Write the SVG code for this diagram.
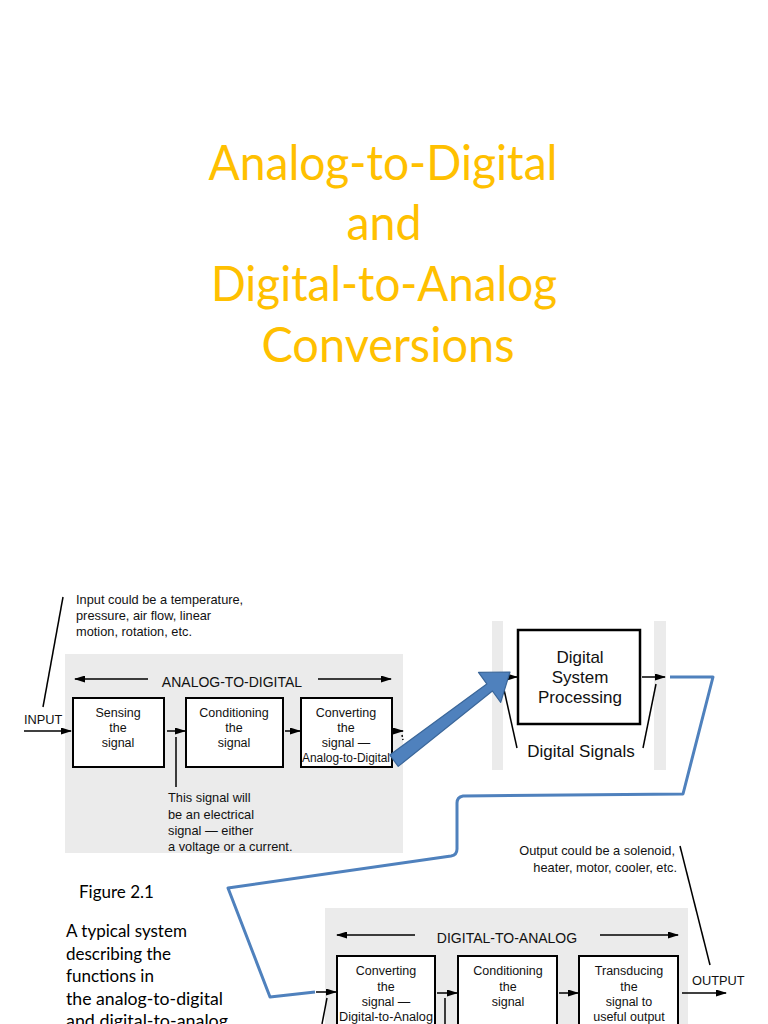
<svg xmlns="http://www.w3.org/2000/svg" width="768" height="1024" viewBox="0 0 768 1024">
<defs>
<marker id="ah" markerUnits="userSpaceOnUse" markerWidth="11" markerHeight="7" refX="10" refY="3.5" orient="auto">
<path d="M0,0 L11,3.5 L0,7 Z" fill="#000"/>
</marker>
<style>
.title{font-family:Lato,"Open Sans",sans-serif;font-size:48px;fill:#FFC000;text-anchor:middle}
.cap{font-family:Lato,"Open Sans",sans-serif;font-size:17px;fill:#000}
.sm{font-family:"Liberation Sans",Arial,sans-serif;font-size:12.8px;fill:#111}
.bx{font-family:"Liberation Sans",Arial,sans-serif;font-size:12.5px;fill:#111;text-anchor:middle}
.hd{font-family:"Liberation Sans",Arial,sans-serif;font-size:14px;fill:#111;text-anchor:middle}
.big{font-family:"Liberation Sans",Arial,sans-serif;font-size:17px;fill:#111;text-anchor:middle}
.box{fill:#fff;stroke:#000;stroke-width:2}
.panel{fill:#EBEBEB}
.ln{stroke:#000;stroke-width:1.5;fill:none}
.ar{stroke:#000;stroke-width:1.5;fill:none;marker-end:url(#ah)}
</style>
</defs>
<rect width="768" height="1024" fill="#fff"/>

<g id="title">
<text class="title" x="383" y="180" textLength="349" lengthAdjust="spacingAndGlyphs">Analog-to-Digital</text>
<text class="title" x="384" y="240" textLength="75" lengthAdjust="spacingAndGlyphs">and</text>
<text class="title" x="384" y="301" textLength="346" lengthAdjust="spacingAndGlyphs">Digital-to-Analog</text>
<text class="title" x="388" y="362" textLength="253" lengthAdjust="spacingAndGlyphs">Conversions</text>
</g>

<g id="panels">
<rect class="panel" x="65" y="654" width="338" height="199"/>
<rect class="panel" x="492" y="621" width="11" height="149"/>
<rect class="panel" x="654" y="621" width="12" height="149"/>
<rect class="panel" x="325" y="908" width="363" height="116"/>
</g>

<g id="caption">
<text class="cap" x="79" y="898">Figure 2.1</text>
<text class="cap" x="66" y="937">A typical system</text>
<text class="cap" x="66" y="960">describing the</text>
<text class="cap" x="66" y="982">functions in</text>
<text class="cap" x="66" y="1005" textLength="157" lengthAdjust="spacingAndGlyphs">the analog-to-digital</text>
<text class="cap" x="66" y="1027" textLength="162" lengthAdjust="spacingAndGlyphs">and digital-to-analog</text>
</g>

<g id="input-note">
<text class="sm" x="76" y="604">Input could be a temperature,</text>
<text class="sm" x="76" y="620">pressure, air flow, linear</text>
<text class="sm" x="76" y="636">motion, rotation, etc.</text>
<text class="sm" x="24" y="724">INPUT</text>
</g>

<g id="atd-label">
<text class="hd" x="232" y="687">ANALOG-TO-DIGITAL</text>
</g>

<g id="sense">
<rect class="box" x="73" y="698" width="91" height="69"/>
<text class="bx" x="118" y="717">Sensing</text>
<text class="bx" x="118" y="732">the</text>
<text class="bx" x="118" y="747">signal</text>
</g>
<g id="cond1">
<rect class="box" x="186" y="698" width="97" height="69"/>
<text class="bx" x="234" y="717">Conditioning</text>
<text class="bx" x="234" y="732">the</text>
<text class="bx" x="234" y="747">signal</text>
</g>
<g id="adc">
<rect class="box" x="301" y="698" width="91" height="69"/>
<text class="bx" x="346" y="717">Converting</text>
<text class="bx" x="346" y="732">the</text>
<text class="bx" x="346" y="747">signal —</text>
<text class="bx" x="346" y="762" textLength="88" lengthAdjust="spacingAndGlyphs">Analog-to-Digital</text>
</g>
<g id="signal-note">
<text class="sm" x="168" y="802">This signal will</text>
<text class="sm" x="168" y="819">be an electrical</text>
<text class="sm" x="168" y="835">signal — either</text>
<text class="sm" x="168" y="851">a voltage or a current.</text>
</g>

<g id="dsp">
<rect x="518" y="630" width="122" height="94" fill="#fff" stroke="#000" stroke-width="2.5"/>
<text class="big" x="580" y="663">Digital</text>
<text class="big" x="580" y="683">System</text>
<text class="big" x="580" y="703">Processing</text>
<text class="big" x="581" y="757">Digital Signals</text>
</g>

<g id="output-note">
<text class="sm" x="675" y="855" text-anchor="end">Output could be a solenoid,</text>
<text class="sm" x="677" y="872" text-anchor="end">heater, motor, cooler, etc.</text>
<text class="sm" x="692" y="985" font-size="14">OUTPUT</text>
</g>

<g id="dta-label">
<text class="hd" x="507" y="943">DIGITAL-TO-ANALOG</text>
</g>
<g id="dac">
<rect class="box" x="337" y="956" width="98" height="80"/>
<text class="bx" x="386" y="975">Converting</text>
<text class="bx" x="386" y="991">the</text>
<text class="bx" x="386" y="1006">signal —</text>
<text class="bx" x="386" y="1021" textLength="94" lengthAdjust="spacingAndGlyphs">Digital-to-Analog</text>
</g>
<g id="cond2">
<rect class="box" x="458" y="956" width="99" height="80"/>
<text class="bx" x="508" y="975">Conditioning</text>
<text class="bx" x="508" y="991">the</text>
<text class="bx" x="508" y="1006">signal</text>
</g>
<g id="trans">
<rect class="box" x="579" y="956" width="99" height="80"/>
<text class="bx" x="629" y="975">Transducing</text>
<text class="bx" x="629" y="991">the</text>
<text class="bx" x="629" y="1006">signal to</text>
<text class="bx" x="629" y="1021">useful output</text>
</g>

<g id="connectors">
<line class="ln" x1="43" y1="707" x2="63" y2="597"/>
<line class="ar" x1="24" y1="731" x2="71" y2="731"/>
<line class="ar" x1="148" y1="679" x2="75" y2="679"/>
<line class="ar" x1="318" y1="679" x2="391" y2="679"/>
<line class="ar" x1="167" y1="731" x2="185" y2="731"/>
<line class="ar" x1="285" y1="731" x2="300" y2="731"/>
<line class="ar" x1="394" y1="731" x2="403" y2="731"/>
<line class="ln" x1="402" y1="735" x2="403" y2="740" stroke-dasharray="2 2"/>
<line class="ln" x1="176" y1="737" x2="176" y2="787"/>
<line class="ar" x1="493" y1="677" x2="517" y2="677"/>
<line class="ar" x1="642" y1="677" x2="665" y2="677"/>
<line class="ln" x1="517" y1="748" x2="503" y2="685"/>
<line class="ln" x1="643" y1="748" x2="656" y2="684"/>
<path d="M670,677 L713,677 L683,794 L463,796 Q457,797 457,803 L457,849 Q457,855 451,856 L228,888 L270,997 L315,992" fill="none" stroke="#4F81BD" stroke-width="3" stroke-linejoin="round"/>
<path d="M398.2,766.4 L389.8,755.0 L486.8,683.9 L478.5,672.4 L510,672 L500.7,702.4 L492.4,691.0 Z" fill="#4F81BD" stroke="#3A6699" stroke-width="1.2" stroke-linejoin="round"/>
<line class="ar" x1="415" y1="935" x2="337" y2="935"/>
<line class="ar" x1="600" y1="935" x2="678" y2="935"/>
<line class="ar" x1="316" y1="992" x2="336" y2="992"/>
<line class="ar" x1="437" y1="993" x2="457" y2="993"/>
<line class="ar" x1="559" y1="993" x2="578" y2="993"/>
<line class="ar" x1="682" y1="993" x2="726" y2="993"/>
<line class="ln" x1="680" y1="846" x2="710" y2="965"/>
<line class="ln" x1="322" y1="1024" x2="327" y2="998"/>
<line class="ln" x1="445" y1="998" x2="445" y2="1024"/>
</g>
</svg>
